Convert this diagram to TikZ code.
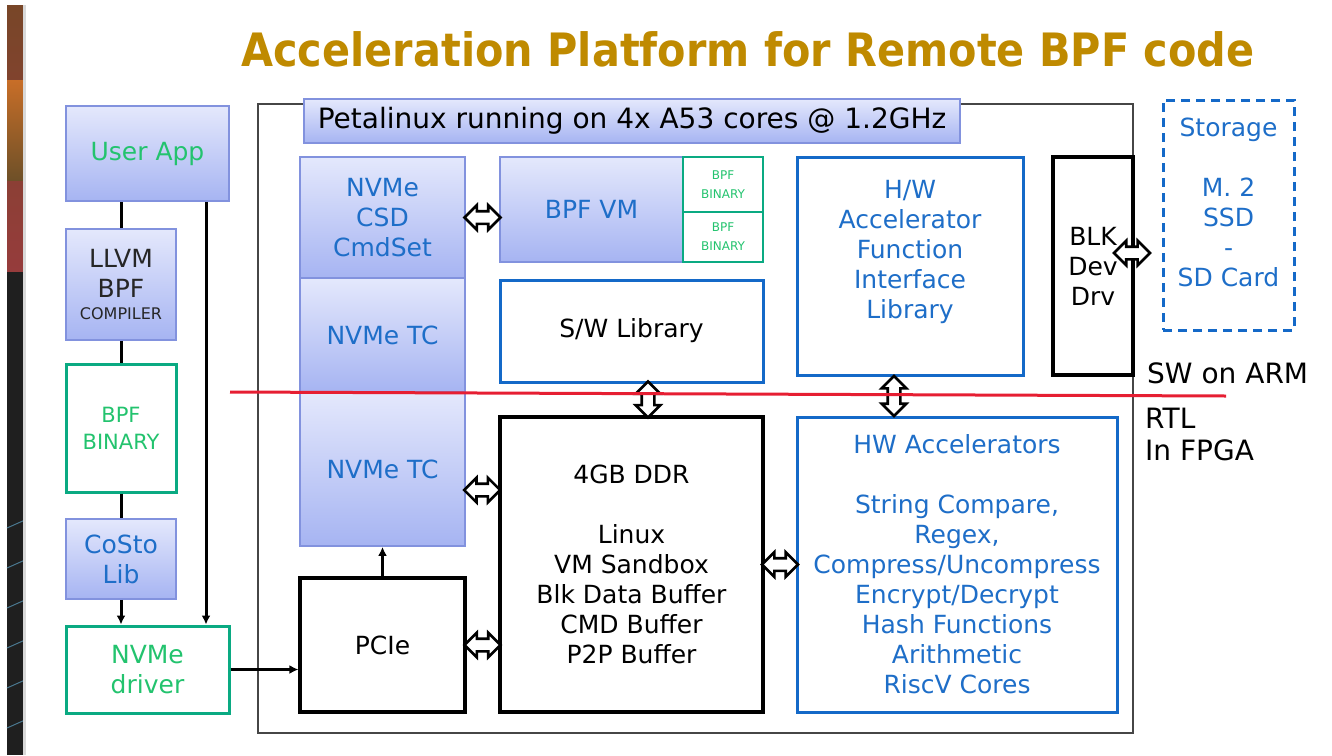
\documentclass[tikz,border=0pt]{standalone}
\usepackage{fontspec}
\usepackage{graphicx}
\setmainfont{DejaVu Sans}
\usetikzlibrary{shapes.arrows,arrows.meta,calc}
\definecolor{gold}{RGB}{191,138,0}
\definecolor{gTop}{RGB}{228,232,252}
\definecolor{gBot}{RGB}{166,180,242}
\definecolor{gBorder}{RGB}{130,146,222}
\definecolor{tealB}{RGB}{10,170,130}
\definecolor{greenT}{RGB}{35,195,110}
\definecolor{blueT}{RGB}{30,110,200}
\definecolor{blueB}{RGB}{20,105,200}
\definecolor{redL}{RGB}{230,30,50}
\definecolor{outerG}{RGB}{70,70,70}
\begin{document}
\begin{tikzpicture}[x=1pt,y=-1pt,
  fs/.style={font=\fontsize{#1}{30}\selectfont},
  fs/.default=25,
  gbox/.style={draw=gBorder, line width=1.8pt, top color=gTop, bottom color=gBot, align=center, inner sep=0pt, fs},
  gwbox/.style={draw=tealB, line width=3pt, fill=white, align=center, inner sep=0pt, text=greenT, fs},
  bbox/.style={draw=blueB, line width=3pt, fill=white, align=center, inner sep=0pt, fs},
  kbox/.style={draw=black, line width=3.2pt, fill=white, align=center, inner sep=0pt, fs},
  sz/.style 2 args={minimum width=#1, minimum height=#2},
  arr/.style={line width=3pt, -{Latex[length=9pt,width=9pt]}},
  ln/.style={line width=3pt},
  dbl/.style={double arrow, draw=black, line width=2.6pt, fill=white, inner sep=5pt,
     minimum height=#1, double arrow head extend=6pt, double arrow head indent=0pt},
  dbl/.default=36pt
]
\useasboundingbox (0,0) rectangle (1332,755);
% left decorative stripe
\shade[top color={rgb,255:red,120;green,70;blue,40}, bottom color={rgb,255:red,150;green,60;blue,60}] (7,5) rectangle (25,272);
\shade[top color={rgb,255:red,200;green,110;blue,40}, bottom color={rgb,255:red,110;green,80;blue,40}] (7,80) rectangle (25,180);
\fill[black!88] (7,272) rectangle (25,755);
\foreach \yy in {520,560,600,640,680,720}{\draw[cyan!50!black, line width=1pt] (7,\yy+8) -- (25,\yy);}
\fill[black!15] (23,5) rectangle (26,755);

% title
\node[text=gold, font=\fontsize{46}{52}\selectfont\bfseries] (title) at (748,49) {\scalebox{0.9}[1]{Acceleration Platform for Remote BPF code}};

% left column
\node[gbox, sz={163}{95}, text=greenT] (userapp) at (147.5,153.5) {User App};
\node[gbox, sz={110}{111}, text=black!85] (llvm) at (121,284.5) {LLVM\\BPF\\[-8pt]{\fontsize{16}{18}\selectfont COMPILER}};
\node[gwbox, sz={110}{128}, fs=21] (bpfbin) at (121,428) {BPF\\[-3pt]BINARY};
\node[gbox, sz={110}{80}, text=blueT] (costo) at (121,559) {CoSto\\Lib};
\node[gwbox, sz={163}{87}] (nvmedrv) at (147.5,669.5) {NVMe\\driver};

% platform
\node[draw=outerG, line width=2.4pt, sz={875}{629}, inner sep=0pt] (platform) at (695.5,418.5) {};
\node[gbox, sz={656}{44}, text=black, fs=28] (peta) at (632,121) {Petalinux running on 4x A53 cores @ 1.2GHz};

\node[gbox, sz={165}{121}, text=blueT] (cmdset) at (382.5,217.5) {NVMe\\CSD\\CmdSet};
\node[gbox, sz={165}{114}, text=blueT] (tc1) at (382.5,335) {NVMe TC};
\node[gbox, sz={165}{154}, text=blueT] (tc2) at (382.5,469) {NVMe TC};

\node[gbox, sz={183}{105}, text=blueT] (bpfvm) at (591.5,209.5) {BPF VM};
\node[gwbox, line width=2.4pt, sz={80}{55}, fs=12] (bin1) at (723,184.5) {BPF\\[-11pt]BINARY};
\node[gwbox, line width=2.4pt, sz={80}{50}, fs=12] (bin2) at (723,237) {BPF\\[-11pt]BINARY};

\node[bbox, sz={263}{102}, text=black] (swlib) at (631.5,331) {S/W Library};
\node[bbox, sz={226}{218}] (hwlib) at (910,266) {};
\node[text=blueT, align=center, fs] at ([yshift=14pt]hwlib.center) {H/W\\Accelerator\\Function\\Interface\\Library};
\node[kbox, sz={80}{218}] (blk) at (1093,266) {BLK\\Dev\\Drv};
\node[draw=blueB, line width=3pt, dash pattern=on 9pt off 6pt, sz={131}{230}, inner sep=0pt] (storage) at (1228.5,215) {};
\node[text=blueT, align=center, fs] at ([yshift=13pt]storage.center) {Storage\\[30pt]M. 2\\SSD\\-\\SD Card};

\node[kbox, sz={263}{295}] (ddr) at (631.5,564.5) {4GB DDR\\[30pt]Linux\\VM Sandbox\\Blk Data Buffer\\CMD Buffer\\P2P Buffer};
\node[bbox, sz={320}{295}, text=blueT] (hwacc) at (957,564.5) {HW Accelerators\\[30pt]String Compare,\\Regex,\\Compress/Uncompress\\Encrypt/Decrypt\\Hash Functions\\Arithmetic\\RiscV Cores};
\node[kbox, sz={165}{134}] (pcie) at (382.5,645) {PCIe};

% side labels
\node[anchor=west, fs=28, inner sep=0pt] (swarm) at (1147,373) {SW on ARM};
\node[anchor=north west, align=left, font=\fontsize{28}{32}\selectfont, inner sep=0pt] (rtl) at (1145,408) {RTL\\In FPGA};

% left connectors
\draw[ln] (llvm.north) -- (llvm.north |- userapp.south);
\draw[ln] (llvm.south) -- (bpfbin.north);
\draw[ln] (bpfbin.south) -- (costo.north);
\draw[arr] (costo.south) -- (costo.south |- nvmedrv.north);
\draw[arr] ([xshift=58.5pt]userapp.south) -- ([xshift=58.5pt]nvmedrv.north);
\draw[arr] (nvmedrv.east) -- (nvmedrv.east -| pcie.west);
\draw[arr] (pcie.north) -- (tc2.south);

% double arrows
\path (cmdset.east) -- (cmdset.east -| bpfvm.west) node[midway, dbl] {};
\path ([yshift=-21pt]tc2.east) -- ([yshift=-21pt]tc2.east -| ddr.west) node[midway, dbl] {};
\path (pcie.east) -- (pcie.east -| ddr.west) node[midway, dbl] {};
\path (ddr.east) -- (ddr.east -| hwacc.west) node[midway, dbl] {};
\path ([xshift=16.5pt]swlib.south) -- ([xshift=16.5pt]swlib.south |- ddr.north) node[midway, dbl, shape border rotate=90] {};
\path ([xshift=-16pt]hwlib.south) -- ([xshift=-16pt]hwlib.south |- hwacc.north) node[midway, dbl=40pt, shape border rotate=90] {};
\path ([yshift=13pt]blk.east) -- ([yshift=13pt]blk.east -| storage.west) node[pos=-0.1, dbl=36pt] {};

% red divider
\coordinate (rl) at (230,392);
\coordinate (rr) at (1226,396);
\draw[redL, line width=3pt] (rl) -- (rr);
\end{tikzpicture}
\end{document}
